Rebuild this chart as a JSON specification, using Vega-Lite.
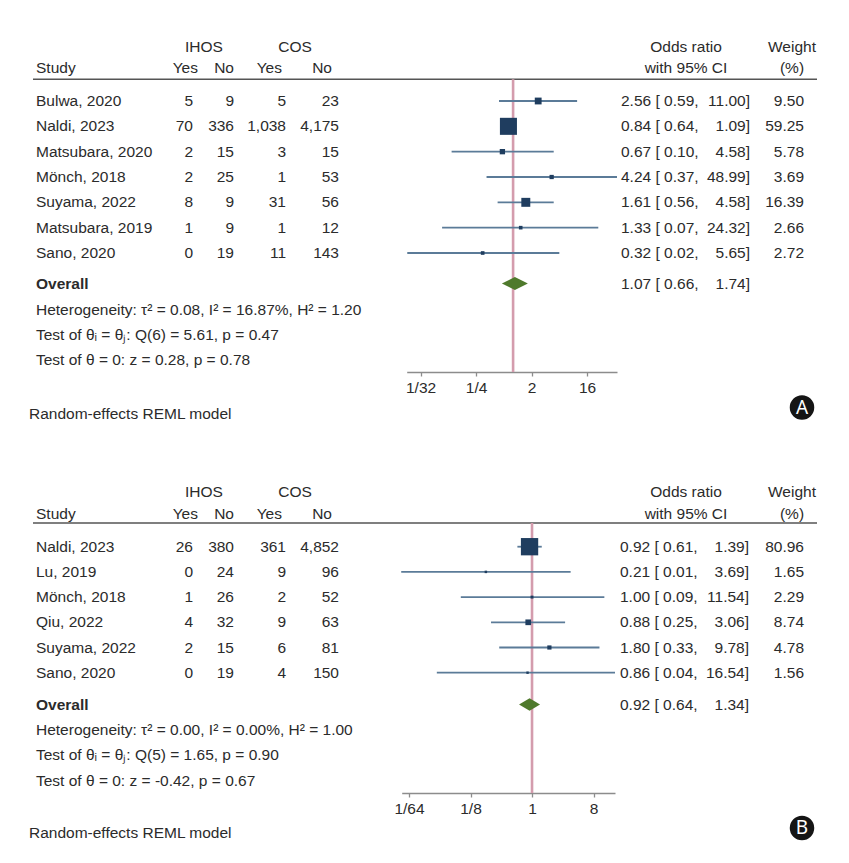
{
  "$schema": "https://vega.github.io/schema/vega-lite/v6.json",
  "width": 849,
  "height": 863,
  "autosize": {"type": "none"},
  "padding": 0,
  "background": "white",
  "config": {
    "view": {"stroke": null},
    "text": {"font": "Liberation Sans", "fontSize": 15.5, "color": "#2b2b2b", "baseline": "middle"}
  },
  "data": {"values": [{}]},
  "datasets": {
    "studiesA": [
      {"study": "Bulwa, 2020", "row": 0, "ihos_yes": 5, "ihos_no": 9, "cos_yes": 5, "cos_no": 23, "est": 2.56, "lo": 0.59, "hi": 11.0, "weight": 9.5},
      {"study": "Naldi, 2023", "row": 1, "ihos_yes": 70, "ihos_no": 336, "cos_yes": 1038, "cos_no": 4175, "est": 0.84, "lo": 0.64, "hi": 1.09, "weight": 59.25},
      {"study": "Matsubara, 2020", "row": 2, "ihos_yes": 2, "ihos_no": 15, "cos_yes": 3, "cos_no": 15, "est": 0.67, "lo": 0.1, "hi": 4.58, "weight": 5.78},
      {"study": "Mönch, 2018", "row": 3, "ihos_yes": 2, "ihos_no": 25, "cos_yes": 1, "cos_no": 53, "est": 4.24, "lo": 0.37, "hi": 48.99, "weight": 3.69},
      {"study": "Suyama, 2022", "row": 4, "ihos_yes": 8, "ihos_no": 9, "cos_yes": 31, "cos_no": 56, "est": 1.61, "lo": 0.56, "hi": 4.58, "weight": 16.39},
      {"study": "Matsubara, 2019", "row": 5, "ihos_yes": 1, "ihos_no": 9, "cos_yes": 1, "cos_no": 12, "est": 1.33, "lo": 0.07, "hi": 24.32, "weight": 2.66},
      {"study": "Sano, 2020", "row": 6, "ihos_yes": 0, "ihos_no": 19, "cos_yes": 11, "cos_no": 143, "est": 0.32, "lo": 0.019, "hi": 5.65, "weight": 2.72}
    ],
    "overallA": [{"study": "Overall", "est": 1.07, "lo": 0.66, "hi": 1.74}],
    "studiesB": [
      {"study": "Naldi, 2023", "row": 0, "ihos_yes": 26, "ihos_no": 380, "cos_yes": 361, "cos_no": 4852, "est": 0.92, "lo": 0.61, "hi": 1.39, "weight": 80.96},
      {"study": "Lu, 2019", "row": 1, "ihos_yes": 0, "ihos_no": 24, "cos_yes": 9, "cos_no": 96, "est": 0.21, "lo": 0.012, "hi": 3.69, "weight": 1.65},
      {"study": "Mönch, 2018", "row": 2, "ihos_yes": 1, "ihos_no": 26, "cos_yes": 2, "cos_no": 52, "est": 1.0, "lo": 0.09, "hi": 11.54, "weight": 2.29},
      {"study": "Qiu, 2022", "row": 3, "ihos_yes": 4, "ihos_no": 32, "cos_yes": 9, "cos_no": 63, "est": 0.88, "lo": 0.25, "hi": 3.06, "weight": 8.74},
      {"study": "Suyama, 2022", "row": 4, "ihos_yes": 2, "ihos_no": 15, "cos_yes": 6, "cos_no": 81, "est": 1.8, "lo": 0.33, "hi": 9.78, "weight": 4.78},
      {"study": "Sano, 2020", "row": 5, "ihos_yes": 0, "ihos_no": 19, "cos_yes": 4, "cos_no": 150, "est": 0.86, "lo": 0.04, "hi": 16.54, "weight": 1.56}
    ],
    "overallB": [{"study": "Overall", "est": 0.92, "lo": 0.64, "hi": 1.34}]
  },
  "resolve": {"scale": {"x": "independent", "y": "independent", "size": "independent"}},
  "layer": [
    {
      "layer": [
        {"mark": {"type": "text", "align": "center"}, "encoding": {"x": {"value": 204}, "y": {"datum": -2.144, "type": "quantitative", "scale": {"domain": [0, 6], "range": [101, 253], "nice": false, "zero": false}, "axis": null}, "text": {"value": "IHOS"}}},
        {"mark": {"type": "text", "align": "center"}, "encoding": {"x": {"value": 295}, "y": {"datum": -2.144, "type": "quantitative"}, "text": {"value": "COS"}}},
        {"mark": {"type": "text", "align": "center"}, "encoding": {"x": {"value": 686}, "y": {"datum": -2.144, "type": "quantitative"}, "text": {"value": "Odds ratio"}}},
        {"mark": {"type": "text", "align": "center"}, "encoding": {"x": {"value": 792}, "y": {"datum": -2.144, "type": "quantitative"}, "text": {"value": "Weight"}}},
        {"mark": {"type": "text", "align": "left"}, "encoding": {"x": {"value": 36}, "y": {"datum": -1.303, "type": "quantitative"}, "text": {"value": "Study"}}},
        {"mark": {"type": "text", "align": "right"}, "encoding": {"x": {"value": 198}, "y": {"datum": -1.303, "type": "quantitative"}, "text": {"value": "Yes"}}},
        {"mark": {"type": "text", "align": "right"}, "encoding": {"x": {"value": 234}, "y": {"datum": -1.303, "type": "quantitative"}, "text": {"value": "No"}}},
        {"mark": {"type": "text", "align": "right"}, "encoding": {"x": {"value": 282}, "y": {"datum": -1.303, "type": "quantitative"}, "text": {"value": "Yes"}}},
        {"mark": {"type": "text", "align": "right"}, "encoding": {"x": {"value": 332}, "y": {"datum": -1.303, "type": "quantitative"}, "text": {"value": "No"}}},
        {"mark": {"type": "text", "align": "center"}, "encoding": {"x": {"value": 686}, "y": {"datum": -1.303, "type": "quantitative"}, "text": {"value": "with 95% CI"}}},
        {"mark": {"type": "text", "align": "center"}, "encoding": {"x": {"value": 792}, "y": {"datum": -1.303, "type": "quantitative"}, "text": {"value": "(%)"}}},
        {"mark": {"type": "rule", "color": "#555555", "strokeWidth": 1.6}, "encoding": {"x": {"value": 33}, "x2": {"value": 817}, "y": {"datum": -0.857, "type": "quantitative"}}},
        {"mark": {"type": "rule", "color": "#d49cad", "strokeWidth": 2.6}, "encoding": {
          "x": {"datum": 1, "type": "quantitative", "scale": {"type": "log", "base": 2, "domain": [0.0186, 49], "range": [406.7, 617], "nice": false},
                "axis": {"values": [0.03125, 0.25, 2, 16], "labelExpr": "datum.value < 1 ? '1/' + format(1/datum.value, 'd') : format(datum.value, 'd')", "title": null, "grid": false, "offset": -491, "domainColor": "#8c8c8c", "domainWidth": 1.6, "tickColor": "#8c8c8c", "tickSize": 4, "tickWidth": 1.3, "labelFont": "Liberation Sans", "labelFontSize": 15.5, "labelColor": "#2b2b2b", "labelPadding": 4, "labelFlush": false, "labelOverlap": false}},
          "y": {"datum": -0.857, "type": "quantitative"}, "y2": {"datum": 10.699}}},
        {"data": {"name": "studiesA"}, "mark": {"type": "rule", "color": "#5b7b98", "strokeWidth": 1.8}, "encoding": {"x": {"field": "lo", "type": "quantitative", "title": null}, "x2": {"field": "hi"}, "y": {"field": "row", "type": "quantitative"}}},
        {"data": {"name": "studiesA"}, "mark": {"type": "square", "filled": true, "color": "#1f3d5f", "opacity": 1}, "encoding": {"x": {"field": "est", "type": "quantitative", "title": null}, "y": {"field": "row", "type": "quantitative"}, "size": {"field": "weight", "type": "quantitative", "scale": {"domain": [0, 100], "range": [0, 490]}, "legend": null}}},
        {"data": {"name": "overallA"}, "mark": {"type": "point", "shape": "M-1,0L0,-0.5L1,0L0,0.5Z", "filled": true, "size": 676, "color": "#4f7a2c", "opacity": 1}, "encoding": {"x": {"field": "est", "type": "quantitative", "title": null}, "y": {"datum": 7.205, "type": "quantitative"}}},
        {"data": {"name": "studiesA"}, "mark": {"type": "text", "align": "left"}, "encoding": {"x": {"value": 36}, "y": {"field": "row", "type": "quantitative"}, "text": {"field": "study"}}},
        {"data": {"name": "studiesA"}, "mark": {"type": "text", "align": "right"}, "encoding": {"x": {"value": 193}, "y": {"field": "row", "type": "quantitative"}, "text": {"field": "ihos_yes", "type": "quantitative", "format": ","}}},
        {"data": {"name": "studiesA"}, "mark": {"type": "text", "align": "right"}, "encoding": {"x": {"value": 234}, "y": {"field": "row", "type": "quantitative"}, "text": {"field": "ihos_no", "type": "quantitative", "format": ","}}},
        {"data": {"name": "studiesA"}, "mark": {"type": "text", "align": "right"}, "encoding": {"x": {"value": 286}, "y": {"field": "row", "type": "quantitative"}, "text": {"field": "cos_yes", "type": "quantitative", "format": ","}}},
        {"data": {"name": "studiesA"}, "mark": {"type": "text", "align": "right"}, "encoding": {"x": {"value": 339}, "y": {"field": "row", "type": "quantitative"}, "text": {"field": "cos_no", "type": "quantitative", "format": ","}}},
        {"data": {"name": "studiesA"}, "transform": [{"calculate": "format(datum.est,'.2f') + ' [ ' + format(datum.lo,'.2f') + ','", "as": "ci_left"}], "mark": {"type": "text", "align": "left"}, "encoding": {"x": {"value": 621}, "y": {"field": "row", "type": "quantitative"}, "text": {"field": "ci_left"}}},
        {"data": {"name": "studiesA"}, "transform": [{"calculate": "format(datum.hi,'.2f') + ']'", "as": "ci_right"}], "mark": {"type": "text", "align": "right"}, "encoding": {"x": {"value": 750}, "y": {"field": "row", "type": "quantitative"}, "text": {"field": "ci_right"}}},
        {"data": {"name": "studiesA"}, "mark": {"type": "text", "align": "right"}, "encoding": {"x": {"value": 804}, "y": {"field": "row", "type": "quantitative"}, "text": {"field": "weight", "type": "quantitative", "format": ".2f"}}},
        {"mark": {"type": "text", "align": "left", "fontWeight": "bold"}, "encoding": {"x": {"value": 36}, "y": {"datum": 7.205, "type": "quantitative"}, "text": {"value": "Overall"}}},
        {"data": {"name": "overallA"}, "transform": [{"calculate": "format(datum.est,'.2f') + ' [ ' + format(datum.lo,'.2f') + ','", "as": "ci_left"}], "mark": {"type": "text", "align": "left"}, "encoding": {"x": {"value": 621}, "y": {"datum": 7.205, "type": "quantitative"}, "text": {"field": "ci_left"}}},
        {"data": {"name": "overallA"}, "transform": [{"calculate": "format(datum.hi,'.2f') + ']'", "as": "ci_right"}], "mark": {"type": "text", "align": "right"}, "encoding": {"x": {"value": 750}, "y": {"datum": 7.205, "type": "quantitative"}, "text": {"field": "ci_right"}}},
        {"mark": {"type": "text", "align": "left"}, "encoding": {"x": {"value": 36}, "y": {"datum": 8.25, "type": "quantitative"}, "text": {"value": "Heterogeneity: τ² = 0.08, I² = 16.87%, H² = 1.20"}}},
        {"mark": {"type": "text", "align": "left"}, "encoding": {"x": {"value": 36}, "y": {"datum": 9.238, "type": "quantitative"}, "text": {"value": "Test of θᵢ = θⱼ: Q(6) = 5.61, p = 0.47"}}},
        {"mark": {"type": "text", "align": "left"}, "encoding": {"x": {"value": 36}, "y": {"datum": 10.225, "type": "quantitative"}, "text": {"value": "Test of θ = 0: z = 0.28, p = 0.78"}}},
        {"mark": {"type": "text", "align": "left"}, "encoding": {"x": {"value": 29}, "y": {"datum": 12.357, "type": "quantitative"}, "text": {"value": "Random-effects REML model"}}},
        {"mark": {"type": "circle", "size": 600, "color": "#151515", "opacity": 1}, "encoding": {"x": {"value": 802}, "y": {"datum": 12.1, "type": "quantitative"}}},
        {"mark": {"type": "text", "align": "center", "color": "white", "font": "Noto Sans", "fontSize": 19}, "encoding": {"x": {"value": 802}, "y": {"datum": 12.1, "type": "quantitative"}, "text": {"value": "A"}}}
      ]
    },
    {
      "layer": [
        {"mark": {"type": "text", "align": "center"}, "encoding": {"x": {"value": 204}, "y": {"datum": -2.17, "type": "quantitative", "scale": {"domain": [0, 5], "range": [546.7, 672.7], "nice": false, "zero": false}, "axis": null}, "text": {"value": "IHOS"}}},
        {"mark": {"type": "text", "align": "center"}, "encoding": {"x": {"value": 295}, "y": {"datum": -2.17, "type": "quantitative"}, "text": {"value": "COS"}}},
        {"mark": {"type": "text", "align": "center"}, "encoding": {"x": {"value": 686}, "y": {"datum": -2.17, "type": "quantitative"}, "text": {"value": "Odds ratio"}}},
        {"mark": {"type": "text", "align": "center"}, "encoding": {"x": {"value": 792}, "y": {"datum": -2.17, "type": "quantitative"}, "text": {"value": "Weight"}}},
        {"mark": {"type": "text", "align": "left"}, "encoding": {"x": {"value": 36}, "y": {"datum": -1.3, "type": "quantitative"}, "text": {"value": "Study"}}},
        {"mark": {"type": "text", "align": "right"}, "encoding": {"x": {"value": 198}, "y": {"datum": -1.3, "type": "quantitative"}, "text": {"value": "Yes"}}},
        {"mark": {"type": "text", "align": "right"}, "encoding": {"x": {"value": 234}, "y": {"datum": -1.3, "type": "quantitative"}, "text": {"value": "No"}}},
        {"mark": {"type": "text", "align": "right"}, "encoding": {"x": {"value": 282}, "y": {"datum": -1.3, "type": "quantitative"}, "text": {"value": "Yes"}}},
        {"mark": {"type": "text", "align": "right"}, "encoding": {"x": {"value": 332}, "y": {"datum": -1.3, "type": "quantitative"}, "text": {"value": "No"}}},
        {"mark": {"type": "text", "align": "center"}, "encoding": {"x": {"value": 686}, "y": {"datum": -1.3, "type": "quantitative"}, "text": {"value": "with 95% CI"}}},
        {"mark": {"type": "text", "align": "center"}, "encoding": {"x": {"value": 792}, "y": {"datum": -1.3, "type": "quantitative"}, "text": {"value": "(%)"}}},
        {"mark": {"type": "rule", "color": "#555555", "strokeWidth": 1.6}, "encoding": {"x": {"value": 33}, "x2": {"value": 817}, "y": {"datum": -0.94, "type": "quantitative"}}},
        {"mark": {"type": "rule", "color": "#d49cad", "strokeWidth": 2.6}, "encoding": {
          "x": {"datum": 1, "type": "quantitative", "scale": {"type": "log", "base": 2, "domain": [0.0122, 16.54], "range": [401.7, 615], "nice": false},
                "axis": {"values": [0.015625, 0.125, 1, 8], "labelExpr": "datum.value < 1 ? '1/' + format(1/datum.value, 'd') : format(datum.value, 'd')", "title": null, "grid": false, "offset": -70, "orient": "bottom", "domainColor": "#8c8c8c", "domainWidth": 1.6, "tickColor": "#8c8c8c", "tickSize": 4, "tickWidth": 1.3, "labelFont": "Liberation Sans", "labelFontSize": 15.5, "labelColor": "#2b2b2b", "labelPadding": 4, "labelFlush": false, "labelOverlap": false}},
          "y": {"datum": -0.94, "type": "quantitative"}, "y2": {"datum": 9.774}}},
        {"data": {"name": "studiesB"}, "mark": {"type": "rule", "color": "#5b7b98", "strokeWidth": 1.8}, "encoding": {"x": {"field": "lo", "type": "quantitative", "title": null}, "x2": {"field": "hi"}, "y": {"field": "row", "type": "quantitative"}}},
        {"data": {"name": "studiesB"}, "mark": {"type": "square", "filled": true, "color": "#1f3d5f", "opacity": 1}, "encoding": {"x": {"field": "est", "type": "quantitative", "title": null}, "y": {"field": "row", "type": "quantitative"}, "size": {"field": "weight", "type": "quantitative", "scale": {"domain": [0, 100], "range": [0, 370]}, "legend": null}}},
        {"data": {"name": "overallB"}, "mark": {"type": "point", "shape": "M-1,0L0,-0.6L1,0L0,0.6Z", "filled": true, "size": 441, "color": "#4f7a2c", "opacity": 1}, "encoding": {"x": {"field": "est", "type": "quantitative", "title": null}, "y": {"datum": 6.262, "type": "quantitative"}}},
        {"data": {"name": "studiesB"}, "mark": {"type": "text", "align": "left"}, "encoding": {"x": {"value": 36}, "y": {"field": "row", "type": "quantitative"}, "text": {"field": "study"}}},
        {"data": {"name": "studiesB"}, "mark": {"type": "text", "align": "right"}, "encoding": {"x": {"value": 193}, "y": {"field": "row", "type": "quantitative"}, "text": {"field": "ihos_yes", "type": "quantitative", "format": ","}}},
        {"data": {"name": "studiesB"}, "mark": {"type": "text", "align": "right"}, "encoding": {"x": {"value": 234}, "y": {"field": "row", "type": "quantitative"}, "text": {"field": "ihos_no", "type": "quantitative", "format": ","}}},
        {"data": {"name": "studiesB"}, "mark": {"type": "text", "align": "right"}, "encoding": {"x": {"value": 286}, "y": {"field": "row", "type": "quantitative"}, "text": {"field": "cos_yes", "type": "quantitative", "format": ","}}},
        {"data": {"name": "studiesB"}, "mark": {"type": "text", "align": "right"}, "encoding": {"x": {"value": 339}, "y": {"field": "row", "type": "quantitative"}, "text": {"field": "cos_no", "type": "quantitative", "format": ","}}},
        {"data": {"name": "studiesB"}, "transform": [{"calculate": "format(datum.est,'.2f') + ' [ ' + format(datum.lo,'.2f') + ','", "as": "ci_left"}], "mark": {"type": "text", "align": "left"}, "encoding": {"x": {"value": 620}, "y": {"field": "row", "type": "quantitative"}, "text": {"field": "ci_left"}}},
        {"data": {"name": "studiesB"}, "transform": [{"calculate": "format(datum.hi,'.2f') + ']'", "as": "ci_right"}], "mark": {"type": "text", "align": "right"}, "encoding": {"x": {"value": 749}, "y": {"field": "row", "type": "quantitative"}, "text": {"field": "ci_right"}}},
        {"data": {"name": "studiesB"}, "mark": {"type": "text", "align": "right"}, "encoding": {"x": {"value": 804}, "y": {"field": "row", "type": "quantitative"}, "text": {"field": "weight", "type": "quantitative", "format": ".2f"}}},
        {"mark": {"type": "text", "align": "left", "fontWeight": "bold"}, "encoding": {"x": {"value": 36}, "y": {"datum": 6.262, "type": "quantitative"}, "text": {"value": "Overall"}}},
        {"data": {"name": "overallB"}, "transform": [{"calculate": "format(datum.est,'.2f') + ' [ ' + format(datum.lo,'.2f') + ','", "as": "ci_left"}], "mark": {"type": "text", "align": "left"}, "encoding": {"x": {"value": 620}, "y": {"datum": 6.262, "type": "quantitative"}, "text": {"field": "ci_left"}}},
        {"data": {"name": "overallB"}, "transform": [{"calculate": "format(datum.hi,'.2f') + ']'", "as": "ci_right"}], "mark": {"type": "text", "align": "right"}, "encoding": {"x": {"value": 749}, "y": {"datum": 6.262, "type": "quantitative"}, "text": {"field": "ci_right"}}},
        {"mark": {"type": "text", "align": "left"}, "encoding": {"x": {"value": 36}, "y": {"datum": 7.274, "type": "quantitative"}, "text": {"value": "Heterogeneity: τ² = 0.00, I² = 0.00%, H² = 1.00"}}},
        {"mark": {"type": "text", "align": "left"}, "encoding": {"x": {"value": 36}, "y": {"datum": 8.266, "type": "quantitative"}, "text": {"value": "Test of θᵢ = θⱼ: Q(5) = 1.65, p = 0.90"}}},
        {"mark": {"type": "text", "align": "left"}, "encoding": {"x": {"value": 36}, "y": {"datum": 9.278, "type": "quantitative"}, "text": {"value": "Test of θ = 0: z = -0.42, p = 0.67"}}},
        {"mark": {"type": "text", "align": "left"}, "encoding": {"x": {"value": 29}, "y": {"datum": 11.361, "type": "quantitative"}, "text": {"value": "Random-effects REML model"}}},
        {"mark": {"type": "circle", "size": 600, "color": "#151515", "opacity": 1}, "encoding": {"x": {"value": 802}, "y": {"datum": 11.163, "type": "quantitative"}}},
        {"mark": {"type": "text", "align": "center", "color": "white", "font": "Noto Sans", "fontSize": 19}, "encoding": {"x": {"value": 802}, "y": {"datum": 11.163, "type": "quantitative"}, "text": {"value": "B"}}}
      ]
    }
  ]
}
